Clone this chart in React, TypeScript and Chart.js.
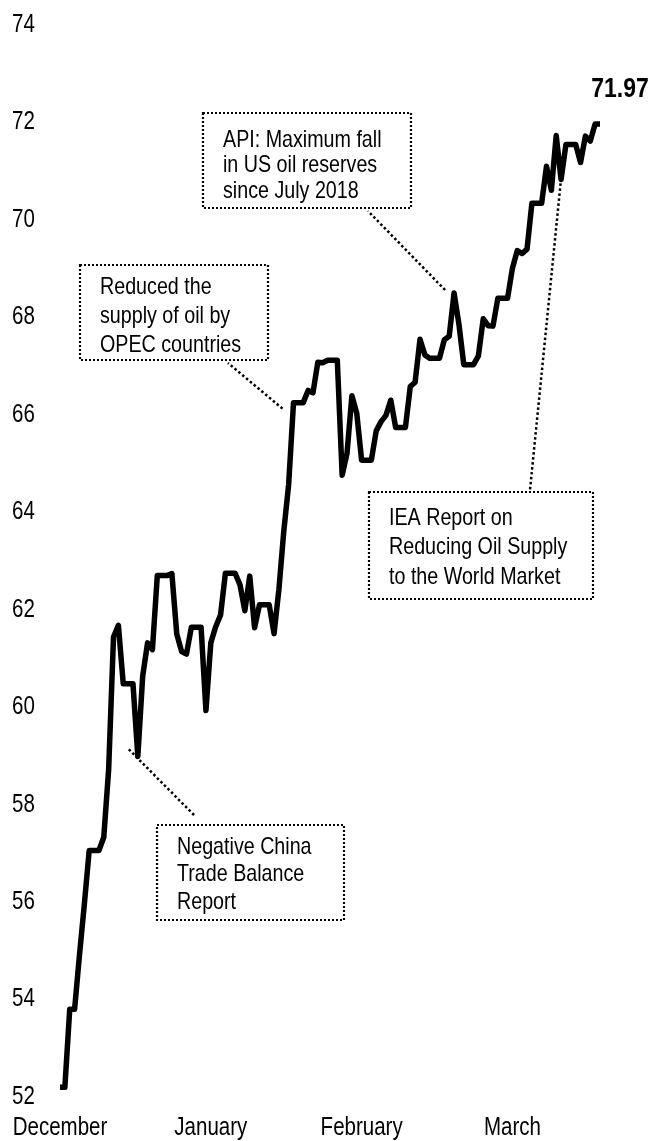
import React, { useEffect, useRef } from 'react';
import { Chart, registerables } from 'chart.js';

Chart.register(...registerables);

// Calendar days (weekends/holidays carry the previous close)
const dates = [
  'Dec 29', 'Dec 30', 'Dec 31', 'Jan 1', 'Jan 2', 'Jan 3', 'Jan 4', 'Jan 5', 'Jan 6', 'Jan 7',
  'Jan 8', 'Jan 9', 'Jan 10', 'Jan 11', 'Jan 12', 'Jan 13', 'Jan 14', 'Jan 15', 'Jan 16', 'Jan 17',
  'Jan 18', 'Jan 19', 'Jan 20', 'Jan 21', 'Jan 22', 'Jan 23', 'Jan 24', 'Jan 25', 'Jan 26', 'Jan 27',
  'Jan 28', 'Jan 29', 'Jan 30', 'Jan 31', 'Feb 1', 'Feb 2', 'Feb 3', 'Feb 4', 'Feb 5', 'Feb 6',
  'Feb 7', 'Feb 8', 'Feb 9', 'Feb 10', 'Feb 11', 'Feb 12', 'Feb 13', 'Feb 14', 'Feb 15', 'Feb 16',
  'Feb 17', 'Feb 18', 'Feb 19', 'Feb 20', 'Feb 21', 'Feb 22', 'Feb 23', 'Feb 24', 'Feb 25', 'Feb 26',
  'Feb 27', 'Feb 28', 'Mar 1', 'Mar 2', 'Mar 3', 'Mar 4', 'Mar 5', 'Mar 6', 'Mar 7', 'Mar 8',
  'Mar 9', 'Mar 10', 'Mar 11', 'Mar 12', 'Mar 13', 'Mar 14', 'Mar 15', 'Mar 16', 'Mar 17', 'Mar 18',
  'Mar 19', 'Mar 20', 'Mar 21', 'Mar 22', 'Mar 23', 'Mar 24', 'Mar 25', 'Mar 26', 'Mar 27', 'Mar 28',
  'Mar 29', 'Mar 30', 'Mar 31', 'Apr 1', 'Apr 2', 'Apr 3', 'Apr 4', 'Apr 5', 'Apr 6', 'Apr 7',
  'Apr 8', 'Apr 9', 'Apr 10', 'Apr 11', 'Apr 12', 'Apr 13', 'Apr 14', 'Apr 15', 'Apr 16', 'Apr 17',
  'Apr 18', 'Apr 19',
];

const prices = [
  52.2, 52.2, 53.8, 53.8, 54.91, 55.95, 57.06, 57.06, 57.06, 57.33,
  58.72, 61.44, 61.68, 60.48, 60.48, 60.48, 58.99, 60.64, 61.32, 61.18,
  62.7, 62.7, 62.7, 62.74, 61.5, 61.14, 61.09, 61.64, 61.64, 61.64,
  59.93, 61.32, 61.65, 61.89, 62.75, 62.75, 62.75, 62.51, 61.98, 62.69,
  61.63, 62.1, 62.1, 62.1, 61.51, 62.42, 63.61, 64.57, 66.25, 66.25,
  66.25, 66.5, 66.45, 67.08, 67.07, 67.12, 67.12, 67.12, 64.76, 65.21,
  66.39, 66.03, 65.07, 65.07, 65.07, 65.67, 65.86, 65.99, 66.3, 65.74,
  65.74, 65.74, 66.58, 66.67, 67.55, 67.23, 67.16, 67.16, 67.16, 67.54,
  67.61, 68.5, 67.86, 67.03, 67.03, 67.03, 67.21, 67.97, 67.83, 67.82,
  68.39, 68.39, 68.39, 69.01, 69.37, 69.31, 69.4, 70.34, 70.34, 70.34,
  71.1, 70.61, 71.73, 70.83, 71.55, 71.55, 71.55, 71.18, 71.72, 71.62,
  71.97, 71.97,
];

const yTicks = [52, 54, 56, 58, 60, 62, 64, 66, 68, 70, 72, 74];
const monthLabels = ['December', 'January', 'February', 'March'];
const monthTickIndex = [0, 31, 62, 93];
const lastValueLabel = '71.97';

const FAMILY = "'Liberation Sans', Arial, sans-serif";
const NARROW = 0.82; // Arial-Narrow-like horizontal compression

type Note = {
  lines: string[];
  box: { x: number; y: number; w: number; h: number };
  textX: number;
  textY: number;
  gap: number;
  target: number; // data index the leader points to
  from: { dx: number; dy: number };
  to: { x: number; y: number };
};

const notes: Note[] = [
  {
    lines: ['Reduced the', 'supply of oil by', 'OPEC countries'],
    box: { x: 80, y: 265, w: 188, h: 95 },
    textX: 100, textY: 287, gap: 29,
    target: 48, from: { dx: -11, dy: 6 }, to: { x: 228, y: 363 },
  },
  {
    lines: ['API: Maximum fall', 'in US oil reserves', 'since July 2018'],
    box: { x: 203, y: 113, w: 208, h: 95 },
    textX: 223, textY: 140, gap: 25.5,
    target: 81, from: { dx: -9, dy: -3 }, to: { x: 368, y: 211 },
  },
  {
    lines: ['IEA Report on', 'Reducing Oil Supply', 'to the World Market'],
    box: { x: 369, y: 492, w: 224, h: 107 },
    textX: 389, textY: 518, gap: 29.5,
    target: 103, from: { dx: 0, dy: -1 }, to: { x: 530, y: 490 },
  },
  {
    lines: ['Negative China', 'Trade Balance', 'Report'],
    box: { x: 157, y: 825, w: 187, h: 95 },
    textX: 177, textY: 847, gap: 27.5,
    target: 16, from: { dx: -9, dy: -7 }, to: { x: 195, y: 816 },
  },
];

function drawNarrow(ctx: CanvasRenderingContext2D, text: string, x: number, y: number, size: number, bold: boolean, align: CanvasTextAlign) {
  ctx.save();
  ctx.translate(x, y);
  ctx.scale(NARROW, 1);
  ctx.font = `${bold ? 'bold ' : ''}${size}px ${FAMILY}`;
  ctx.textAlign = align;
  ctx.textBaseline = 'middle';
  ctx.fillStyle = '#000';
  ctx.fillText(text, 0, 0);
  ctx.restore();
}

const textPlugin = {
  id: 'narrowText',
  afterDatasetsDraw(chart: any) {
    const ctx: CanvasRenderingContext2D = chart.ctx;
    const xs = chart.scales.x;
    const ys = chart.scales.y;
    const area = chart.chartArea;

    // axis labels from the scales' own ticks
    for (const t of ys.ticks) {
      drawNarrow(ctx, String(t.value), 12, ys.getPixelForValue(t.value), 25, false, 'left');
    }
    for (const t of xs.ticks) {
      const k = monthTickIndex.indexOf(t.value);
      if (k < 0) continue;
      drawNarrow(ctx, monthLabels[k], xs.getPixelForValue(t.value), area.bottom + 31, 25, false, 'center');
    }

    // annotations
    ctx.save();
    ctx.strokeStyle = '#000';
    for (const n of notes) {
      ctx.lineWidth = 2.2;
      ctx.setLineDash([2, 2]);
      ctx.strokeRect(n.box.x, n.box.y, n.box.w, n.box.h);

      const px = xs.getPixelForValue(n.target) + n.from.dx;
      const py = ys.getPixelForValue(prices[n.target]) + n.from.dy;
      ctx.lineWidth = 2.5;
      ctx.setLineDash([2.5, 2.5]);
      ctx.beginPath();
      ctx.moveTo(px, py);
      ctx.lineTo(n.to.x, n.to.y);
      ctx.stroke();
    }
    ctx.restore();
    for (const n of notes) {
      n.lines.forEach((t, i) => drawNarrow(ctx, t, n.textX, n.textY + i * n.gap, 24, false, 'left'));
    }

    const li = prices.length - 1;
    drawNarrow(ctx, lastValueLabel, xs.getPixelForValue(li) + 20, ys.getPixelForValue(prices[li]) - 35, 28, true, 'center');
  },
};

export default function App() {
  const ref = useRef<HTMLCanvasElement | null>(null);

  useEffect(() => {
    if (!ref.current) return;
    const chart = new Chart(ref.current, {
      type: 'line',
      data: {
        labels: dates,
        datasets: [
          {
            label: 'Price',
            data: prices.map((y, i) => ({ x: i, y })),
            xAxisID: 'x',
            yAxisID: 'y',
            borderColor: '#000',
            borderWidth: 5.5,
            pointRadius: 0,
            tension: 0,
            fill: false,
            borderJoinStyle: 'round',
            borderCapStyle: 'round',
          },
        ],
      },
      options: {
        animation: false,
        responsive: false,
        maintainAspectRatio: false,
        layout: { padding: { left: 60, right: 53, top: 25, bottom: 44 } },
        plugins: { legend: { display: false }, tooltip: { enabled: false } },
        scales: {
          x: {
            type: 'linear',
            min: 0,
            max: prices.length - 1,
            grid: { display: false, drawTicks: false },
            border: { display: false },
            afterBuildTicks: (s: any) => {
              s.ticks = monthTickIndex.map((v) => ({ value: v }));
            },
            ticks: { display: false },
          },
          y: {
            type: 'linear',
            min: 52,
            max: 74,
            grid: { display: false, drawTicks: false },
            border: { display: false },
            afterBuildTicks: (s: any) => {
              s.ticks = yTicks.map((v) => ({ value: v }));
            },
            ticks: { display: false },
          },
        },
      },
      plugins: [textPlugin],
    } as any);
    return () => chart.destroy();
  }, []);

  return (
    <div style={{ position: 'absolute', left: 0, top: 0, width: 653, height: 1141, background: '#fff' }}>
      <canvas ref={ref} width={653} height={1141} style={{ display: 'block', width: 653, height: 1141 }} />
    </div>
  );
}
